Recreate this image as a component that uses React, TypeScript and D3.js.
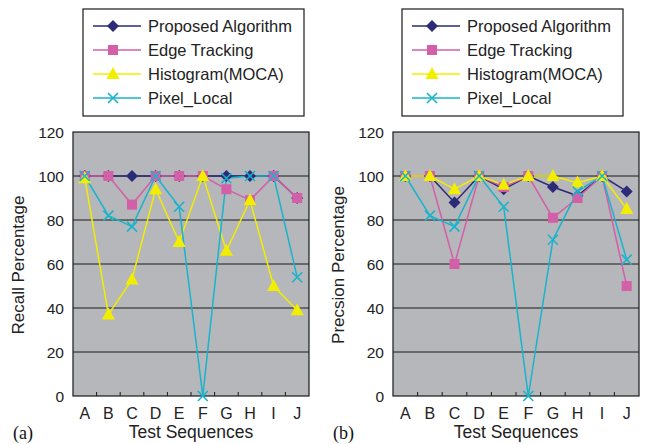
import React, { useEffect, useRef } from "react";
import * as d3 from "d3";

const categories = ["A", "B", "C", "D", "E", "F", "G", "H", "I", "J"];
const seriesNames = ["Proposed Algorithm", "Edge Tracking", "Histogram(MOCA)", "Pixel_Local"];
const yTicks = [0, 20, 40, 60, 80, 100, 120];

// recall (a)
const recallProposed = [100, 100, 100, 100, 100, 100, 100, 100, 100, 90];
const recallEdge = [100, 100, 87, 100, 100, 100, 94, 89, 100, 90];
const recallHistogram = [99, 37, 53, 94, 70, 100, 66, 89, 50, 39];
const recallPixel = [100, 82, 77, 100, 86, 0, 99, 100, 100, 54];

// precision (b)
const precisionProposed = [100, 100, 88, 100, 94, 100, 95, 91, 100, 93];
const precisionEdge = [100, 100, 60, 100, 95, 100, 81, 90, 100, 50];
const precisionHistogram = [100, 100, 94, 100, 96, 100, 100, 97, 100, 85];
const precisionPixel = [100, 82, 77, 100, 86, 0, 71, 93, 100, 62];

const colors = ["#2d2a78", "#d35fa8", "#f2ee00", "#18b4cc"];
const markers = ["diamond", "square", "triangle", "cross"];

const App = () => {
  const svgRef = useRef<SVGSVGElement>(null);

  useEffect(() => {
    const svg = d3.select(svgRef.current);
    svg.selectAll("*").remove();

    const font = "Liberation Sans, Arial, Helvetica, sans-serif";

    const drawMarker = (g: any, kind: string, x: number, y: number, color: string) => {
      if (kind === "diamond") {
        g.append("path")
          .attr("d", `M${x},${y - 6}L${x + 6},${y}L${x},${y + 6}L${x - 6},${y}Z`)
          .attr("fill", color);
      } else if (kind === "square") {
        g.append("rect").attr("x", x - 5).attr("y", y - 5).attr("width", 10).attr("height", 10).attr("fill", color);
      } else if (kind === "triangle") {
        g.append("path")
          .attr("d", `M${x},${y - 7}L${x + 6.5},${y + 5}L${x - 6.5},${y + 5}Z`)
          .attr("fill", color);
      } else {
        g.append("path")
          .attr("d", `M${x - 5},${y - 5}L${x + 5},${y + 5}M${x + 5},${y - 5}L${x - 5},${y + 5}`)
          .attr("stroke", color)
          .attr("stroke-width", 1.6)
          .attr("fill", "none");
      }
    };

    const drawPanel = (
      left: number,
      right: number,
      legendX: number,
      yLabel: string,
      tag: string,
      data: number[][]
    ) => {
      const top = 132;
      const bottom = 396;
      const g = svg.append("g");

      const x = d3.scaleBand().domain(categories).range([left, right]);
      const y = d3.scaleLinear().domain([0, 120]).range([bottom, top]);

      // plot background
      g.append("rect")
        .attr("x", left)
        .attr("y", top)
        .attr("width", right - left)
        .attr("height", bottom - top)
        .attr("fill", "#b5b7ba");

      // gridlines
      g.selectAll(".grid")
        .data(yTicks.filter((t) => t > 0 && t < 120))
        .enter()
        .append("line")
        .attr("x1", left)
        .attr("x2", right)
        .attr("y1", (d) => y(d))
        .attr("y2", (d) => y(d))
        .attr("stroke", "#1a1a1a")
        .attr("stroke-width", 1);

      // border
      g.append("rect")
        .attr("x", left)
        .attr("y", top)
        .attr("width", right - left)
        .attr("height", bottom - top)
        .attr("fill", "none")
        .attr("stroke", "#1a1a1a")
        .attr("stroke-width", 1.2);

      // x ticks (inside, at band edges)
      g.selectAll(".xtick")
        .data(categories.slice(1))
        .enter()
        .append("line")
        .attr("x1", (d) => x(d)!)
        .attr("x2", (d) => x(d)!)
        .attr("y1", bottom)
        .attr("y2", bottom - 4)
        .attr("stroke", "#1a1a1a");

      // y tick labels
      g.selectAll(".ylab")
        .data(yTicks)
        .enter()
        .append("text")
        .attr("x", left - 9)
        .attr("y", (d) => y(d) + 5.5)
        .attr("text-anchor", "end")
        .attr("font-family", font)
        .attr("font-size", 15.5)
        .attr("fill", "#222")
        .text((d) => d);

      // x tick labels
      g.selectAll(".xlab")
        .data(categories)
        .enter()
        .append("text")
        .attr("x", (d) => x(d)! + x.bandwidth() / 2)
        .attr("y", 418.5)
        .attr("text-anchor", "middle")
        .attr("font-family", font)
        .attr("font-size", 16)
        .attr("fill", "#222")
        .text((d) => d);

      g.append("text")
        .attr("x", (left + right) / 2)
        .attr("y", 437.5)
        .attr("text-anchor", "middle")
        .attr("font-family", font)
        .attr("font-size", 17.5)
        .attr("fill", "#222")
        .text("Test Sequences");

      g.append("text")
        .attr("transform", `translate(${left - 49},${(top + bottom) / 2 + 1}) rotate(-90)`)
        .attr("text-anchor", "middle")
        .attr("font-family", font)
        .attr("font-size", 17)
        .attr("fill", "#222")
        .text(yLabel);

      g.append("text")
        .attr("x", left - 60)
        .attr("y", 439)
        .attr("font-family", "Liberation Serif, Times New Roman, serif")
        .attr("font-size", 18)
        .attr("fill", "#111")
        .text(tag);

      // series lines
      const line = d3
        .line<number>()
        .x((_, i) => x(categories[i])! + x.bandwidth() / 2)
        .y((d) => y(d));

      data.forEach((values, si) => {
        g.append("path")
          .datum(values)
          .attr("d", line)
          .attr("fill", "none")
          .attr("stroke", colors[si])
          .attr("stroke-width", 1.5);
      });
      data.forEach((values, si) => {
        values.forEach((v, i) => {
          drawMarker(g, markers[si], x(categories[i])! + x.bandwidth() / 2, y(v), colors[si]);
        });
      });

      // legend
      const lg = svg.append("g");
      lg.append("rect")
        .attr("x", legendX)
        .attr("y", 9)
        .attr("width", 221)
        .attr("height", 107)
        .attr("fill", "#fff")
        .attr("stroke", "#1a1a1a")
        .attr("stroke-width", 1.2);
      seriesNames.forEach((name, si) => {
        const ly = 26 + si * 24;
        lg.append("line")
          .attr("x1", legendX + 10)
          .attr("x2", legendX + 58)
          .attr("y1", ly)
          .attr("y2", ly)
          .attr("stroke", colors[si])
          .attr("stroke-width", 1.5);
        drawMarker(lg, markers[si], legendX + 30, ly, colors[si]);
        lg.append("text")
          .attr("x", legendX + 65)
          .attr("y", ly + 6)
          .attr("font-family", font)
          .attr("font-size", 16.5)
          .attr("fill", "#222")
          .text(name);
      });
    };

    drawPanel(73, 309, 83, "Recall Percentage", "(a)", [
      recallProposed,
      recallEdge,
      recallHistogram,
      recallPixel,
    ]);
    drawPanel(393, 639, 402, "Precsion Percentage", "(b)", [
      precisionProposed,
      precisionEdge,
      precisionHistogram,
      precisionPixel,
    ]);
  }, []);

  return (
    <svg
      ref={svgRef}
      width={645}
      height={444}
      style={{ position: "absolute", left: 0, top: 0, background: "#fff" }}
    />
  );
};

export default App;
